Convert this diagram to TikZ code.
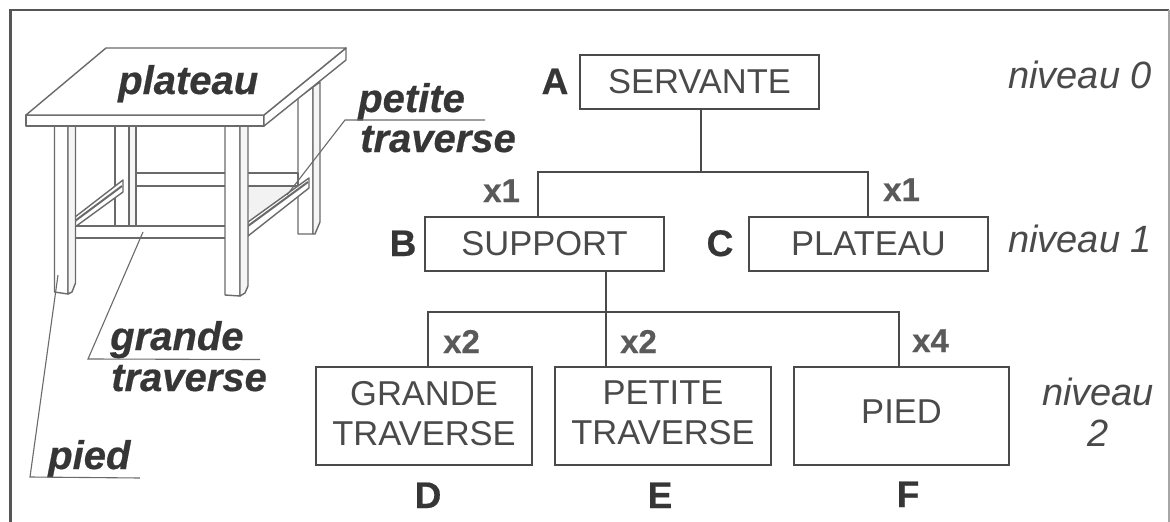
\documentclass[tikz,border=0pt]{standalone}
\usepackage{fontspec}
\setmainfont{Liberation Sans}
\newcommand{\fs}[1]{\fontsize{#1}{40}\selectfont}
\tikzset{
  box/.style={draw=boxc,line width=2pt,rectangle,inner sep=0pt,align=center,text=txtc,font=\fs{34.5}},
  wire/.style={draw=boxc,line width=2pt},
  wood/.style={draw=woodc,line width=1.4pt,fill=white,line join=round},
  side/.style={draw=woodc,line width=1.4pt,fill=black!4,line join=round},
  thin leader/.style={draw=woodc,line width=1.1pt},
  part/.style={inner sep=0pt,anchor=base west,text=partc,font=\fs{40}\bfseries\itshape\addfontfeatures{FakeBold=0.5}},
  level/.style={inner sep=0pt,text=txtc,font=\fs{38}\itshape},
  letter/.style={inner sep=0pt,anchor=base,text=partc,font=\fs{37}\bfseries\addfontfeatures{FakeBold=0.5}},
  qty/.style={inner sep=0pt,anchor=base west,text=qtyc,font=\fs{33}\bfseries\addfontfeatures{FakeBold=0.4}},
}
\definecolor{boxc}{HTML}{4A4A4A}
\definecolor{woodc}{HTML}{6A6A6A}
\definecolor{txtc}{HTML}{4A4A4A}
\definecolor{partc}{HTML}{363636}
\definecolor{qtyc}{HTML}{5A5A5A}
\definecolor{framec}{HTML}{555555}
\begin{document}
\begin{tikzpicture}[x=1pt,y=-1pt]
\useasboundingbox (0,0) rectangle (1170,522);
\fill[white] (0,0) rectangle (1170,522);
% frame
\draw[framec,line width=2.4pt] (10.5,522) -- (10.5,10) -- (1169,10);
\draw[black!35,line width=1.2pt] (1169,10) -- (1169,522);

% table: floor shade
\fill[black!5] (248,187) -- (298,187) -- (250,222) -- cycle;
% back legs
\draw[wood] (115,126) rectangle (129,226);
\draw[side] (129,126) rectangle (136,226);
\draw[wood] (298,98) -- (313,87) -- (313,234) -- (298,234) -- cycle;
\draw[side] (313,87) -- (320,82) -- (320,222) -- (315,234) -- (313,234) -- cycle;
% rear bar
\draw[wood] (136,173) rectangle (298,186);
% side bars
\draw[wood] (75,217) -- (123,180) -- (123,192) -- (75,227) -- cycle;
\draw[wood,line width=2pt] (75,221) -- (122,186);
\draw[wood] (248,222) -- (309,178) -- (309,188) -- (248,236) -- cycle;
\draw[wood,line width=2pt] (248,226) -- (308,182);
% front bar
\draw[wood] (72,226) rectangle (226,238);
% front legs
\draw[wood] (54.5,126) -- (68,126) -- (68,294) -- (54.5,292) -- cycle;
\draw[side] (68,126) -- (75.5,126) -- (75.5,283) -- (72,292) -- (68,294) -- cycle;
\draw[wood] (225,126) -- (240,126) -- (240,296) -- (225,295) -- cycle;
\draw[side] (240,126) -- (248,126) -- (248,286) -- (245,293) -- (240,296) -- cycle;
% top
\draw[wood] (26,115) rectangle (264,126);
\draw[wood] (264,115) -- (346,48) -- (346,60) -- (264,126) -- cycle;
\draw[wood] (26,115) -- (106,48) -- (346,48) -- (264,115) -- cycle;

% part labels
\node[part] (lplateau) at (118,94) {plateau};
\node[part] (lpetite) at (358,112) {petite};
\node[part] (ltrav1) at (360,152) {traverse};
\node[part] (lgrande) at (110,350) {grande};
\node[part] (ltrav2) at (111,391) {traverse};
\node[part] (lpied) at (48,469) {pied};

% leaders
\coordinate (pa) at (287,195);
\coordinate (pb) at (345,120);
\coordinate (pc) at (485,120);
\coordinate (ga) at (143,232);
\coordinate (gb) at (88,359);
\coordinate (gc) at (260,359.5);
\coordinate (fa) at (58,275);
\coordinate (fb) at (30,477);
\coordinate (fc) at (140,478);
\draw[thin leader] (pa) -- (pb) -- (pc);
\draw[thin leader] (ga) -- (gb) -- (gc);
\draw[thin leader] (fa) -- (fb) -- (fc);

% boxes
\node[box,minimum width=239pt,minimum height=54pt] (A) at (699.5,82) {SERVANTE};
\node[box,minimum width=239pt,minimum height=54pt] (B) at (544.5,244) {SUPPORT};
\node[box,minimum width=239pt,minimum height=54pt] (C) at (868.5,244) {PLATEAU};
\node[box,minimum width=216pt,minimum height=98pt] (D) at (424,416) {GRANDE\\TRAVERSE\rule[-6pt]{0pt}{6pt}};
\node[box,minimum width=216pt,minimum height=98pt] (E) at (663,416) {PETITE\\TRAVERSE\rule[-6pt]{0pt}{6pt}};
\node[box,minimum width=215pt,minimum height=98pt,text depth=8pt] (F) at (901.5,416) {PIED};

% connectors
\coordinate (busA) at (701,172);
\coordinate (busB) at (606,312);
\draw[wire] (A.south -| busA) -- (busA);
\draw[wire] (B.north -| 538,0) |- (busA) -| (C.north -| 868,0);
\draw[wire] (B.south -| busB) -- (busB);
\draw[wire] (D.north -| 428,0) |- (busB) -| (F.north -| 899,0);
\draw[wire] (busB) -- (E.north -| busB);

% letters
\node[letter] (la) at (555,94) {A};
\node[letter] (lb) at (403,256) {B};
\node[letter] (lc) at (720,256) {C};
\node[letter] (ld) at (428,508) {D};
\node[letter] (le) at (660,508) {E};
\node[letter] (lf) at (908,507) {F};

% quantities
\node[qty] (q1) at (483,202) {x1};
\node[qty] (q2) at (883,201) {x1};
\node[qty] (q3) at (443,353) {x2};
\node[qty] (q4) at (620,353) {x2};
\node[qty] (q5) at (912,352) {x4};

% levels
\node[level,anchor=base west] (n0) at (1008,88) {niveau 0};
\node[level,anchor=base west] (n1) at (1008,252) {niveau 1};
\node[level,anchor=base] (n2) at (1098,405) {niveau};
\node[level,anchor=base] (n3) at (1098,446) {2};
\end{tikzpicture}
\end{document}
